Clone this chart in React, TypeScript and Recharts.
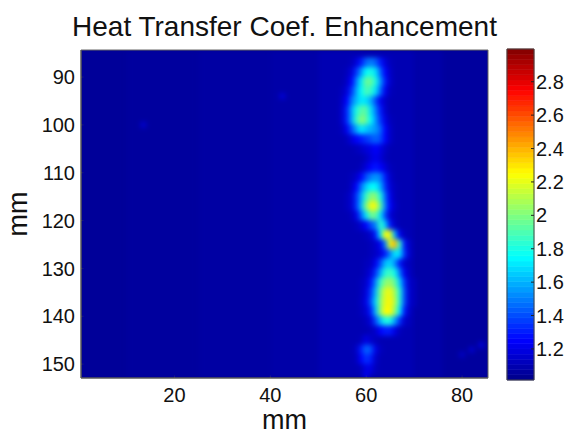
import React from "react";
import { ComposedChart, XAxis, YAxis, ReferenceArea } from "recharts";

const title = "Heat Transfer Coef. Enhancement";
const axisName = "mm";
const xTicks = [20, 40, 60, 80];
const yTicks = [90, 100, 110, 120, 130, 140, 150];
const barTicks = [1.2, 1.4, 1.6, 1.8, 2, 2.2, 2.4, 2.6, 2.8];
const xDomain = [0.5, 85.4];
const yDomain = [84.35, 152.9];
const colorRange = [1, 3];
const barDomain = [1.014, 2.996];
const b = 1.04;

const bandEdges = [0.5, 10, 25, 40, 50, 70, 76, 85.4];
const bandValues = [1.05, 1.06, 1.07, 1.08, 1.1, 1.08, 1.06];

const hotCols = [54, 55, 56, 57, 58, 59, 60, 61, 62, 63, 64, 65, 66, 67, 68, 69, 70, 71, 72];
const hotRowYs = [85, 87, 89, 91, 93, 95, 97, 99, 101, 103, 105, 107, 109, 111, 113, 115, 117, 119, 121, 123, 125, 127, 129, 131, 133, 135, 137, 139, 141, 143, 145, 147, 149, 151, 153];
const hotValues = [
  [b, b, b, b, b, b, 1.1, 1.15, 1.25, 1.35, 1.3, 1.2, 1.1, b, b, b, b, b, b],
  [b, b, b, 1.12, 1.18, 1.3, 1.45, 1.5, 1.45, 1.3, 1.18, 1.12, b, b, b, b, b, b, b],
  [b, b, 1.12, 1.18, 1.35, 1.55, 1.75, 1.8, 1.7, 1.45, 1.25, 1.14, b, b, b, b, b, b, b],
  [b, b, 1.14, 1.25, 1.5, 1.72, 1.95, 1.95, 1.8, 1.55, 1.3, 1.15, b, b, b, b, b, b, b],
  [b, 1.12, 1.18, 1.35, 1.58, 1.75, 1.9, 1.85, 1.7, 1.45, 1.22, 1.12, b, b, b, b, b, b, b],
  [b, 1.14, 1.25, 1.48, 1.62, 1.72, 1.7, 1.6, 1.4, 1.22, 1.14, b, b, b, b, b, b, b, b],
  [b, 1.15, 1.32, 1.58, 1.8, 1.92, 1.92, 1.7, 1.5, 1.3, 1.15, b, b, b, b, b, b, b, b],
  [b, 1.15, 1.32, 1.58, 1.85, 2.02, 1.95, 1.75, 1.55, 1.35, 1.2, 1.12, b, b, b, b, b, b, b],
  [b, 1.12, 1.22, 1.4, 1.58, 1.72, 1.65, 1.6, 1.55, 1.45, 1.25, 1.14, b, b, b, b, b, b, b],
  [b, b, 1.12, 1.18, 1.25, 1.3, 1.35, 1.4, 1.45, 1.4, 1.25, 1.14, b, b, b, b, b, b, b],
  [b, b, b, b, 1.12, 1.14, 1.18, 1.2, 1.25, 1.2, 1.14, b, b, b, b, b, b, b, b],
  [b, b, b, b, b, b, 1.13, 1.18, 1.22, 1.18, 1.12, b, b, b, b, b, b, b, b],
  [b, b, b, b, b, 1.12, 1.18, 1.25, 1.3, 1.25, 1.18, 1.12, b, b, b, b, b, b, b],
  [b, b, b, 1.12, 1.15, 1.25, 1.4, 1.5, 1.55, 1.5, 1.3, 1.15, b, b, b, b, b, b, b],
  [b, b, b, 1.14, 1.25, 1.48, 1.65, 1.75, 1.75, 1.6, 1.35, 1.18, 1.12, b, b, b, b, b, b],
  [b, b, 1.12, 1.16, 1.35, 1.58, 1.85, 2.02, 2.02, 1.8, 1.45, 1.22, 1.12, b, b, b, b, b, b],
  [b, b, 1.12, 1.16, 1.35, 1.62, 1.98, 2.22, 2.22, 1.92, 1.5, 1.25, 1.14, b, b, b, b, b, b],
  [b, b, b, 1.12, 1.2, 1.45, 1.7, 1.95, 1.95, 1.7, 1.4, 1.18, 1.12, b, b, b, b, b, b],
  [b, b, b, b, 1.12, 1.16, 1.25, 1.4, 1.5, 1.85, 1.65, 1.3, 1.14, b, b, b, b, b, b],
  [b, b, b, b, b, b, 1.12, 1.15, 1.3, 1.7, 2.25, 2.2, 1.6, 1.22, 1.12, b, b, b, b],
  [b, b, b, b, b, b, b, 1.12, 1.15, 1.22, 1.5, 2.2, 2.4, 1.85, 1.3, 1.14, b, b, b],
  [b, b, b, b, b, b, b, 1.12, 1.14, 1.18, 1.3, 1.5, 1.7, 1.7, 1.35, 1.15, b, b, b],
  [b, b, b, b, b, b, 1.12, 1.13, 1.22, 1.4, 1.62, 1.68, 1.55, 1.3, 1.15, 1.12, b, b, b],
  [b, b, b, b, b, b, 1.13, 1.18, 1.35, 1.58, 1.82, 1.88, 1.78, 1.5, 1.22, 1.13, b, b, b],
  [b, b, b, b, b, 1.12, 1.15, 1.28, 1.52, 1.85, 2.02, 2.06, 1.95, 1.68, 1.35, 1.15, 1.12, b, b],
  [b, b, b, b, b, 1.12, 1.18, 1.35, 1.62, 1.98, 2.18, 2.22, 2.08, 1.82, 1.4, 1.16, 1.12, b, b],
  [b, b, b, b, b, 1.13, 1.2, 1.4, 1.68, 2.02, 2.2, 2.26, 2.12, 1.82, 1.4, 1.16, 1.12, b, b],
  [b, b, b, b, b, 1.12, 1.16, 1.3, 1.62, 2.02, 2.25, 2.25, 2.05, 1.72, 1.3, 1.14, b, b, b],
  [b, b, b, b, b, b, 1.12, 1.18, 1.4, 1.62, 1.8, 1.8, 1.58, 1.35, 1.15, 1.12, b, b, b],
  [b, b, b, b, b, b, b, 1.12, 1.15, 1.25, 1.3, 1.3, 1.2, 1.12, b, b, b, b, b],
  [b, b, b, b, b, 1.12, 1.2, 1.15, 1.12, b, b, b, b, b, b, b, b, b, b],
  [b, b, b, b, 1.14, 1.3, 1.45, 1.4, 1.2, 1.12, b, b, b, b, b, b, b, b, b],
  [b, b, b, b, 1.12, 1.25, 1.35, 1.3, 1.14, b, b, b, b, b, b, b, b, b, b],
  [b, b, b, b, b, 1.12, 1.2, 1.2, 1.12, b, b, b, b, b, b, b, b, b, b],
  [b, b, b, b, b, b, 1.25, 1.12, b, b, b, b, b, b, b, b, b, b, b],
];

const faintX = [82, 84, 80, 13.5, 42.5];
const faintY = [147, 146, 148, 100, 94];
const faintV = [1.16, 1.18, 1.14, 1.16, 1.18];

function jet(v: number) {
  const t = (v - colorRange[0]) / (colorRange[1] - colorRange[0]);
  const ch = (c: number) => Math.round(255 * Math.max(0, Math.min(1, 1.5 - Math.abs(4 * t - c))));
  return `rgb(${ch(3)},${ch(2)},${ch(1)})`;
}

const levelCount = 64;
const barLevels = Array.from({ length: levelCount }, (_, i) => i);
const font = "'Liberation Sans', Arial, sans-serif";
const W = 573;
const H = 434;
const margin = { left: 41, top: 50, right: 85, bottom: 26 };
const hotMargin = { left: 81, top: 50, right: 85, bottom: 56 };
const tickStyle = { fontSize: 20, fill: "#111", fontFamily: font };
const layer: React.CSSProperties = { position: "absolute", left: 0, top: 0 };

function HotLayer() {
  const rects: React.ReactNode[] = [];
  bandValues.forEach((v, i) =>
    rects.push(
      <ReferenceArea key={`b${i}`} x1={bandEdges[i]} x2={bandEdges[i + 1]} y1={yDomain[0]} y2={yDomain[1]} fill={jet(v)} fillOpacity={1} stroke="none" />
    )
  );
  hotValues.forEach((row, r) =>
    row.forEach((v, c) => {
      if (v <= 1.1) return;
      const color = jet(v);
      rects.push(
        <ReferenceArea key={`${r}-${c}`} x1={hotCols[c] - 0.5} x2={hotCols[c] + 0.5} y1={hotRowYs[r] - 1} y2={Math.min(hotRowYs[r] + 1, yDomain[1])} fill={color} fillOpacity={1} stroke={color} strokeWidth={0.6} />
      );
    })
  );
  faintX.forEach((x, i) =>
    rects.push(
      <ReferenceArea key={`f${i}`} x1={x - 0.6} x2={x + 0.6} y1={faintY[i] - 0.6} y2={faintY[i] + 0.6} fill={jet(faintV[i])} fillOpacity={1} stroke="none" />
    )
  );
  return (
    <div style={{ ...layer, width: W, height: H, clipPath: "inset(51px 86px 57px 82px)" }}>
      <div style={{ ...layer, filter: "blur(2.4px)" }}>
        <ComposedChart width={W} height={H} margin={hotMargin} data={[]}>
          <XAxis hide type="number" dataKey="x" domain={xDomain} allowDataOverflow />
          <YAxis hide type="number" dataKey="y" domain={yDomain} reversed allowDataOverflow />
          {rects}
        </ComposedChart>
      </div>
    </div>
  );
}

export default function App() {
  return (
    <div style={{ ...layer, width: W, height: H, background: "#fff", overflow: "hidden" }}>
      <div style={{ ...layer }}>
        <ComposedChart width={W} height={H} margin={margin} data={[]}>
          <XAxis
            type="number"
            dataKey="x"
            domain={xDomain}
            ticks={xTicks}
            allowDataOverflow
            height={30}
            tickSize={-3}
            tickMargin={13}
            stroke="#555"
            tick={tickStyle}
            label={{ value: axisName, position: "insideBottom", offset: -21, fontSize: 27, fill: "#111", fontFamily: font }}
          />
          <YAxis
            type="number"
            dataKey="y"
            domain={yDomain}
            ticks={yTicks}
            reversed
            allowDataOverflow
            width={40}
            tickSize={-3}
            tickMargin={9}
            stroke="#555"
            tick={tickStyle}
            label={{ value: axisName, angle: -90, position: "insideLeft", offset: -24, fontSize: 27, fill: "#111", fontFamily: font, textAnchor: "middle" }}
          />
          <ReferenceArea x1={xDomain[0]} x2={xDomain[1]} y1={yDomain[0]} y2={yDomain[1]} fill={jet(b)} fillOpacity={1} stroke="#666" />
        </ComposedChart>
      </div>
      <HotLayer />
      <div style={{ ...layer }}>
        <ComposedChart width={W} height={H} margin={{ left: 507, top: 49, right: 0, bottom: 54 }} data={[]}>
          <XAxis hide type="number" dataKey="x" domain={[0, 1]} allowDataOverflow />
          <YAxis
            type="number"
            dataKey="y"
            orientation="right"
            domain={barDomain}
            ticks={barTicks}
            allowDataOverflow
            width={39}
            tickSize={-3}
            tickMargin={5}
            axisLine={false}
            stroke="#222"
            tick={tickStyle}
          />
          {barLevels.map((i) => {
            const span = barDomain[1] - barDomain[0];
            const lo = barDomain[0] + (span * i) / levelCount;
            const hi = barDomain[0] + (span * (i + 1)) / levelCount;
            const color = jet((lo + hi) / 2);
            return <ReferenceArea key={i} x1={0} x2={1} y1={lo} y2={hi} fill={color} fillOpacity={1} stroke={color} strokeWidth={0.6} />;
          })}
          <ReferenceArea x1={0} x2={1} y1={barDomain[0]} y2={barDomain[1]} fill="none" stroke="#444" />
        </ComposedChart>
      </div>
      <div style={{ position: "absolute", left: 0, width: 569, top: 11, textAlign: "center", fontFamily: font, fontSize: 28, color: "#111", whiteSpace: "nowrap" }}>{title}</div>
    </div>
  );
}
